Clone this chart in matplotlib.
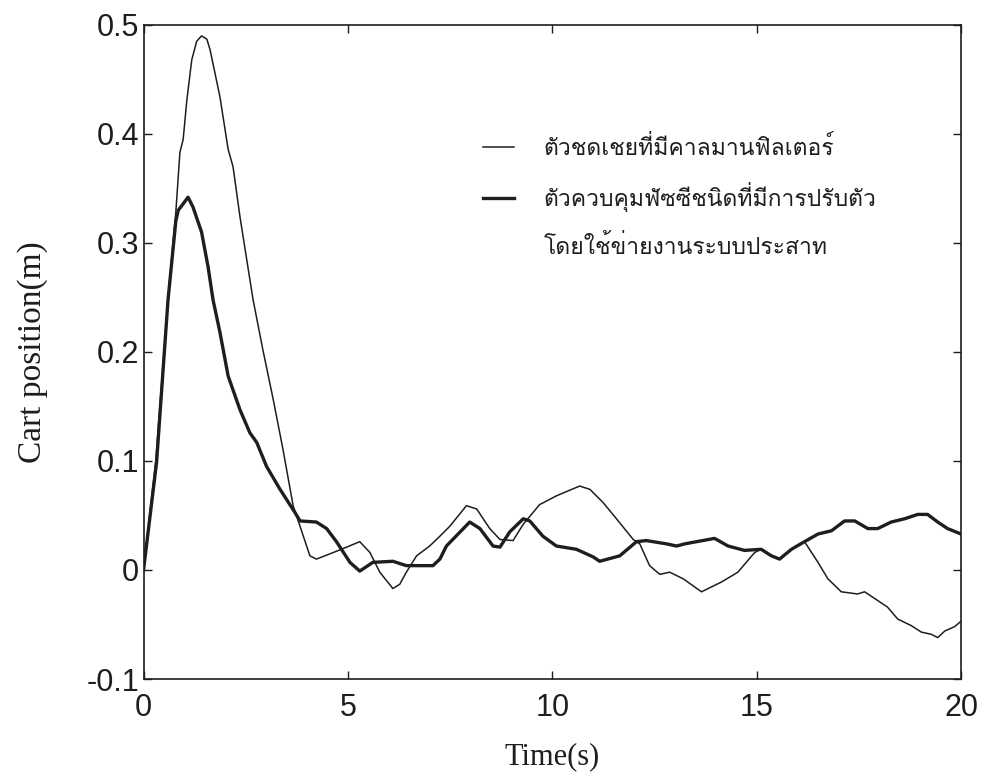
import matplotlib

matplotlib.use("Agg")
import matplotlib.pyplot as plt
from matplotlib import font_manager
from matplotlib.lines import Line2D

# thin line: compensator with Kalman filter
kalman_t = [0, 0.3, 0.6, 0.79, 0.89, 0.97, 1.06, 1.18, 1.3, 1.42, 1.55, 1.63, 1.87, 2.07,
            2.19, 2.36, 2.68, 2.92, 3.17, 3.41, 3.66, 3.83, 4.07, 4.23, 4.64, 4.97, 5.29,
            5.54, 5.78, 6.1, 6.27, 6.43, 6.68, 7.0, 7.25, 7.49, 7.9, 8.15, 8.47, 8.72, 9.04,
            9.29, 9.69, 10.1, 10.35, 10.67, 10.92, 11.24, 11.57, 11.98, 12.14, 12.38, 12.63,
            12.87, 13.2, 13.65, 14.14, 14.54, 14.95, 15.11, 15.36, 15.56, 15.85, 16.17, 16.5,
            16.74, 17.07, 17.47, 17.64, 17.96, 18.2, 18.45, 18.78, 19.03, 19.27, 19.43, 19.6,
            19.84, 20.0]
kalman_pos = [0, 0.1, 0.25, 0.328, 0.383, 0.395, 0.431, 0.468, 0.485, 0.49, 0.487, 0.477,
              0.434, 0.386, 0.37, 0.324, 0.248, 0.202, 0.157, 0.111, 0.059, 0.040, 0.013,
              0.010, 0.016, 0.021, 0.026, 0.016, -0.002, -0.017, -0.013, -0.002, 0.013, 0.022,
              0.031, 0.040, 0.059, 0.056, 0.038, 0.028, 0.027, 0.042, 0.060, 0.068, 0.072,
              0.077, 0.074, 0.062, 0.047, 0.028, 0.024, 0.004, -0.004, -0.002, -0.008, -0.020,
              -0.011, -0.002, 0.016, 0.019, 0.013, 0.010, 0.019, 0.026, 0.007, -0.008, -0.020,
              -0.022, -0.020, -0.028, -0.034, -0.045, -0.051, -0.057, -0.059, -0.062, -0.056,
              -0.052, -0.047]

# thick line: adaptive fuzzy controller using neural network
fuzzy_t = [0, 0.32, 0.6, 0.79, 0.85, 0.95, 1.09, 1.21, 1.42, 1.58, 1.7, 1.87, 2.07, 2.36,
           2.6, 2.77, 3.01, 3.34, 3.7, 3.83, 4.23, 4.48, 4.72, 5.05, 5.29, 5.61, 6.1, 6.43,
           7.08, 7.25, 7.41, 7.98, 8.23, 8.55, 8.72, 8.96, 9.29, 9.45, 9.77, 10.1, 10.59,
           11.0, 11.16, 11.65, 12.06, 12.3, 12.79, 13.04, 13.24, 13.97, 14.3, 14.7, 15.11,
           15.36, 15.56, 15.85, 16.17, 16.5, 16.83, 17.15, 17.4, 17.72, 17.96, 18.29, 18.62,
           18.94, 19.18, 19.43, 19.67, 20.0]
fuzzy_pos = [0, 0.099, 0.248, 0.32, 0.33, 0.335, 0.342, 0.333, 0.31, 0.278, 0.248, 0.218,
             0.178, 0.147, 0.126, 0.117, 0.095, 0.074, 0.053, 0.045, 0.044, 0.038, 0.026,
             0.007, -0.001, 0.007, 0.008, 0.004, 0.004, 0.010, 0.022, 0.044, 0.038, 0.022,
             0.021, 0.035, 0.047, 0.045, 0.031, 0.022, 0.019, 0.012, 0.008, 0.013, 0.026,
             0.027, 0.024, 0.022, 0.024, 0.029, 0.022, 0.018, 0.019, 0.013, 0.010, 0.019,
             0.026, 0.033, 0.036, 0.045, 0.045, 0.038, 0.038, 0.044, 0.047, 0.051, 0.051,
             0.044, 0.038, 0.033]

labels = ["ตัวชดเชยที่มีคาลมานฟิลเตอร์",
          "ตัวควบคุมฟัซซีชนิดที่มีการปรับตัว",
          "โดยใช้ข่ายงานระบบประสาท"]
x_ticks = [0, 5, 10, 15, 20]
y_ticks = [-0.1, 0, 0.1, 0.2, 0.3, 0.4, 0.5]
y_tick_labels = ["-0.1", "0", "0.1", "0.2", "0.3", "0.4", "0.5"]


def find_thai_fonts():
    """Return names of installed fonts that carry Thai glyphs."""
    try:
        from fontTools.ttLib import TTFont
    except ImportError:
        return []
    found = []
    for entry in font_manager.fontManager.ttflist:
        if entry.name in found:
            continue
        try:
            cmap = TTFont(entry.fname, fontNumber=0, lazy=True).getBestCmap()
        except Exception:
            continue
        if cmap and 0x0E15 in cmap and 0x0E35 in cmap:
            found.append(entry.name)
    # prefer serif-looking faces
    found.sort(key=lambda n: (0 if "Serif" in n or "Loopless" not in n else 1))
    return found


thai_fonts = find_thai_fonts()
legend_family = thai_fonts[:1] + ["Liberation Serif", "DejaVu Sans"]

fig = plt.figure(figsize=(9.85, 7.81), dpi=100)
ax = fig.add_axes([0.1457, 0.1306, 0.83, 0.8374])

ink = "#1e1e1e"
thin, = ax.plot(kalman_t, kalman_pos, color=ink, lw=1.1)
thick, = ax.plot(fuzzy_t, fuzzy_pos, color=ink, lw=2.4)

ax.set_xlim(0, 20)
ax.set_ylim(-0.1, 0.5)
ax.set_xticks(x_ticks)
ax.set_yticks(y_ticks)
ax.set_yticklabels(y_tick_labels)
ax.tick_params(direction="in", top=True, right=True, length=6, width=1, colors=ink,
               labelsize=22)
ax.tick_params(axis="x", pad=10)
ax.tick_params(axis="y", pad=3)
for lbl in ax.get_xticklabels() + ax.get_yticklabels():
    lbl.set_family(["Liberation Sans", "DejaVu Sans"])
for sp in ax.spines.values():
    sp.set_linewidth(1.2)
    sp.set_color(ink)

ax.set_xlabel("Time(s)", family=["Liberation Serif", "DejaVu Serif"], fontsize=22,
              labelpad=14, color=ink)
ax.set_ylabel("Cart position(m)", family=["Liberation Serif", "DejaVu Serif"], fontsize=24,
              labelpad=28, color=ink)

blank = Line2D([], [], color="none")
ax.legend([thin, thick, blank], labels, loc="upper left", bbox_to_anchor=(0.415, 0.83),
          frameon=False, borderpad=0, borderaxespad=0, handlelength=1.35, handletextpad=1.3,
          labelspacing=0.97, prop={"family": legend_family, "size": 16.5}, labelcolor=ink)

fig.savefig("out.png", dpi=100)
plt.close(fig)
